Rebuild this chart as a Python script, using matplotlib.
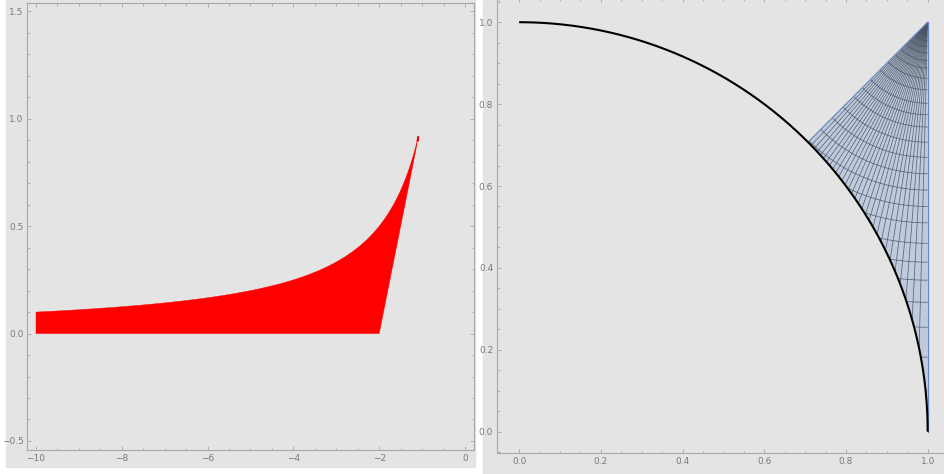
import matplotlib
matplotlib.use("Agg")
import matplotlib.pyplot as plt
import numpy as np
from matplotlib.patches import Polygon, Rectangle
from matplotlib.ticker import MultipleLocator

# Left panel: region between y = 0 and y = -1/x, cut on the right by y = x + 2
x_start = -10.0
x_knee = -2.0
x_cut = -1.12
tip_fragment = [-1.106, -1.090]

# Right panel: unit quarter circle and the wedge between it and the corner (1, 1)
arc_deg = [0.0, 90.0]
wedge_deg = [0.0, 45.0]
apex = [1.0, 1.0]
# mesh rays from the apex, angle measured from straight down
spoke_deg = [1.5, 3.0, 4.5, 6.0, 7.5, 9.0, 10.5, 12.0, 13.5, 15.0,
             16.5, 18.0, 19.5, 21.0, 22.5, 24.0, 25.5, 27.0, 28.5, 30.0,
             31.5, 33.0, 34.5, 36.0, 37.5, 39.0, 40.5, 42.0, 43.5]
# mesh circles around the apex
ring_radii = [0.015, 0.03, 0.045, 0.06, 0.075, 0.093, 0.112, 0.137, 0.165,
              0.198, 0.226, 0.256, 0.293, 0.33, 0.37, 0.41, 0.45, 0.49,
              0.54, 0.586, 0.63, 0.684, 0.745, 0.818, 0.9]

BG = "#e4e4e4"
FRAME = "#a8a8a8"
LABEL = "#7a7a7a"
MESH = "#4a5362"


def style_frame(ax, major_x, minor_x, major_y, minor_y):
    ax.set_facecolor(BG)
    for s in ax.spines.values():
        s.set_color(FRAME)
        s.set_linewidth(0.8)
    ax.xaxis.set_major_locator(MultipleLocator(major_x))
    ax.xaxis.set_minor_locator(MultipleLocator(minor_x))
    ax.yaxis.set_major_locator(MultipleLocator(major_y))
    ax.yaxis.set_minor_locator(MultipleLocator(minor_y))
    ax.tick_params(which="both", direction="in", top=True, right=True,
                   color=FRAME, width=0.6, labelsize=6.5, labelcolor=LABEL)
    ax.tick_params(which="major", length=3.0)
    ax.tick_params(which="minor", length=1.8)
    ax.tick_params(axis="x", pad=3)
    ax.tick_params(axis="y", pad=2.5)


fig = plt.figure(figsize=(9.44, 4.74), dpi=100)
fig.patch.set_facecolor("white")
W, H = 944.0, 474.0
fig.patches.append(Rectangle((6 / W, 7 / H), (475 - 6) / W, 467 / H,
                             transform=fig.transFigure, color=BG, zorder=-10))
fig.patches.append(Rectangle((483 / W, 0), (W - 483) / W, 1,
                             transform=fig.transFigure, color=BG, zorder=-10))

# ---- left panel ----
ax1 = fig.add_axes([27 / W, 1 - 450 / H, (474 - 27) / W, (450 - 3) / H])
style_frame(ax1, 2, 0.5, 0.5, 0.1)

xs_top = np.linspace(x_start, x_cut, 400)
xs_edge = np.linspace(x_cut, x_knee, 50)
outline = ([(x_start, 0.0), (x_knee, 0.0)]
           + [(x, x + 2) for x in xs_edge[::-1]]
           + [(x, -1 / x) for x in xs_top[::-1]])
ax1.add_patch(Polygon(outline, closed=True, facecolor="red", edgecolor="red",
                      linewidth=0.3))
xf = np.linspace(tip_fragment[0], tip_fragment[1], 20)
frag = [(x, x + 2) for x in xf] + [(x, -1 / x) for x in xf[::-1]]
ax1.add_patch(Polygon(frag, closed=True, facecolor="red", edgecolor="red",
                      linewidth=1.2))
ax1.set_xlim(-10.21, 0.21)
ax1.set_ylim(-0.542, 1.539)

# ---- right panel ----
ax2 = fig.add_axes([496.7 / W, 1 - 453 / H, 1.115 * 408.5 / W, 1.112 * 409.5 / H])
style_frame(ax2, 0.2, 0.05, 0.2, 0.05)
ax2.set_xlim(-0.055, 1.06)
ax2.set_ylim(-0.052, 1.06)

t = np.radians(np.linspace(wedge_deg[1], wedge_deg[0], 300))
wedge_pts = np.column_stack([np.cos(t), np.sin(t)])
wedge_pts = np.vstack([wedge_pts, apex])
wedge = Polygon(wedge_pts, closed=True, facecolor="#bfcbdd", edgecolor="none",
                zorder=2)
ax2.add_patch(wedge)

for d in spoke_deg:
    a = np.radians(d)
    ln, = ax2.plot([apex[0], apex[0] - 1.2 * np.sin(a)],
                   [apex[1], apex[1] - 1.2 * np.cos(a)],
                   color=MESH, lw=0.55, alpha=0.85, zorder=3)
    ln.set_clip_path(wedge)

phi = np.radians(np.linspace(180, 270, 300))
for r in ring_radii:
    ln, = ax2.plot(apex[0] + r * np.cos(phi), apex[1] + r * np.sin(phi),
                   color=MESH, lw=0.55, alpha=0.85, zorder=3)
    ln.set_clip_path(wedge)

# wedge edges: the 45 degree ray and the tangent x = 1
c45 = np.cos(np.radians(wedge_deg[1]))
ax2.plot([c45, apex[0]], [c45, apex[1]], color="#6487c4", lw=0.9, zorder=4)
ax2.plot([1, 1], [0, apex[1]], color="#6487c4", lw=0.9, zorder=4)

ta = np.radians(np.linspace(arc_deg[0], arc_deg[1], 400))
ax2.plot(np.cos(ta), np.sin(ta), color="black", lw=1.5, zorder=5,
         solid_capstyle="butt")

fig.savefig("out.png", dpi=100, facecolor=fig.get_facecolor())
